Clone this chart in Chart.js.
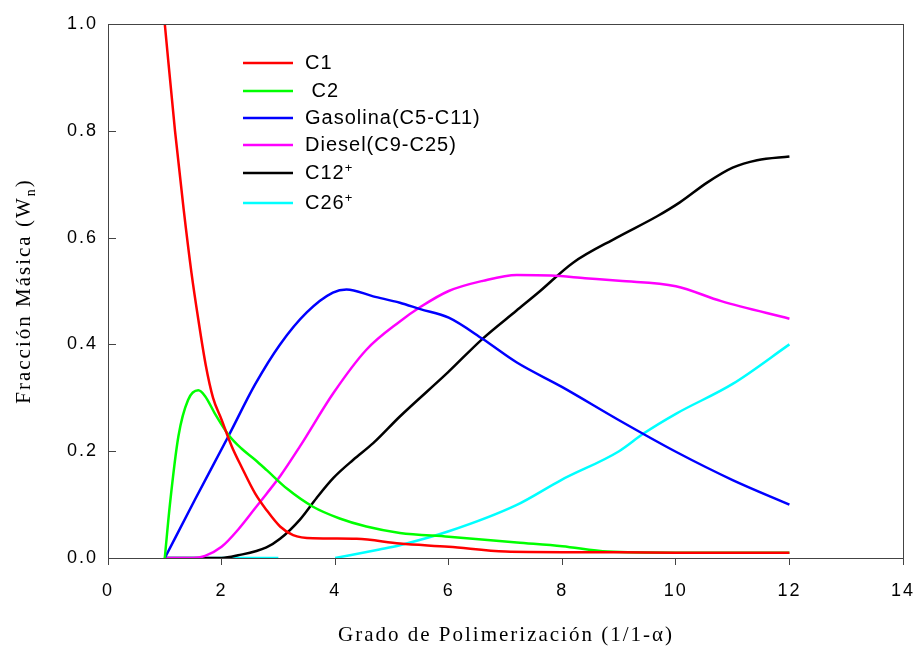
<!DOCTYPE html>
<html>
<head>
<meta charset="utf-8">
<script src="https://cdn.jsdelivr.net/npm/chart.js@4"></script>
<style>
  body { margin: 0; background: #fff; }
  canvas { display: block; }
</style>
</head>
<body>
<canvas id="myChart" width="917" height="648"></canvas>
<script>
// datos
const c1X = [1, 1.18, 1.33, 1.47, 1.59, 1.72, 1.85, 2.0, 2.18, 2.35, 2.59, 2.79, 3.03, 3.26, 3.61, 4.38, 5.14, 6, 7, 8, 9, 10, 11, 12];
const c1Y = [1.0, 0.8, 0.655, 0.534, 0.447, 0.362, 0.3, 0.259, 0.209, 0.171, 0.121, 0.09, 0.059, 0.043, 0.037, 0.036, 0.027, 0.021, 0.012, 0.011, 0.011, 0.01, 0.01, 0.01];

const c2X = [1, 1.09, 1.24, 1.41, 1.59, 1.71, 1.88, 2.12, 2.35, 2.59, 2.8, 3.15, 3.61, 4.08, 4.55, 5.14, 6, 7.2, 8, 8.8, 10, 12];
const c2Y = [0, 0.1, 0.228, 0.296, 0.314, 0.303, 0.271, 0.231, 0.205, 0.184, 0.164, 0.13, 0.096, 0.074, 0.059, 0.047, 0.04, 0.029, 0.022, 0.012, 0.01, 0.01];

const gasX = [1, 1.53, 2.12, 2.59, 3.03, 3.5, 3.96, 4.2, 4.67, 5.14, 5.5, 6, 6.6, 7.2, 8, 9, 10, 11, 12];
const gasY = [0, 0.109, 0.228, 0.325, 0.40, 0.46, 0.497, 0.503, 0.49, 0.478, 0.466, 0.45, 0.41, 0.366, 0.32, 0.258, 0.199, 0.146, 0.1];

const dieselX = [1, 1.5, 1.71, 2.0, 2.29, 2.59, 2.79, 3.03, 3.38, 3.97, 4.55, 5.14, 5.5, 6, 6.6, 7.2, 7.8, 8.4, 9, 10, 10.8, 12];
const dieselY = [0, 0, 0.004, 0.021, 0.053, 0.093, 0.12, 0.153, 0.209, 0.309, 0.39, 0.443, 0.47, 0.5, 0.519, 0.53, 0.529, 0.524, 0.519, 0.509, 0.481, 0.448];

const c12X = [1, 2, 2.29, 2.79, 3.03, 3.38, 3.67, 3.97, 4.32, 4.67, 5.14, 5.99, 6.59, 7.19, 7.6, 8.19, 8.96, 9.67, 10.07, 10.55, 11, 11.43, 12];
const c12Y = [0, 0, 0.005, 0.02, 0.036, 0.072, 0.112, 0.15, 0.184, 0.215, 0.265, 0.348, 0.41, 0.463, 0.499, 0.553, 0.6, 0.64, 0.666, 0.703, 0.731, 0.745, 0.752];

const c26X = [1, 2, 3, 3.5, 4, 4.78, 5.14, 6, 7.19, 7.98, 9, 9.43, 10, 11, 12];
const c26Y = [0, 0, 0, null, 0, 0.016, 0.024, 0.05, 0.099, 0.146, 0.2, 0.233, 0.27, 0.326, 0.40];

const xTicks = [0, 2, 4, 6, 8, 10, 12, 14];
const yTicks = [0.0, 0.2, 0.4, 0.6, 0.8, 1.0];

const series = [
    { label: 'C1', color: '#ff0000', xs: c1X, ys: c1Y },
    { label: ' C2', color: '#00ff00', xs: c2X, ys: c2Y },
    { label: 'Gasolina(C5-C11)', color: '#0000ff', xs: gasX, ys: gasY },
    { label: 'Diesel(C9-C25)', color: '#ff00ff', xs: dieselX, ys: dieselY },
    { label: 'C12+', color: '#000000', xs: c12X, ys: c12Y },
    { label: 'C26+', color: '#00ffff', xs: c26X, ys: c26Y }
];

const frameColor = '#444';
const sansFont = '"Liberation Sans", Arial, sans-serif';
const serifFont = '"Liberation Serif", "Times New Roman", serif';

// marco, ticks hacia dentro en y, leyenda y titulos
const extras = {
    id: 'extras',
    beforeDraw(chart) {
        chart.ctx.letterSpacing = '2px';
    },
    beforeDatasetsDraw(chart) {
        chart.ctx.letterSpacing = '0px';
    },
    afterDraw(chart) {
        const ctx = chart.ctx;
        const a = chart.chartArea;
        const yScale = chart.scales.y;
        ctx.save();
        ctx.strokeStyle = frameColor;
        ctx.lineWidth = 1;
        ctx.strokeRect(Math.round(a.left) + 0.5, Math.round(a.top) + 0.5, Math.round(a.right - a.left), Math.round(a.bottom - a.top));
        yTicks.forEach(v => {
            const py = Math.round(yScale.getPixelForValue(v)) + 0.5;
            ctx.beginPath();
            ctx.moveTo(a.left, py);
            ctx.lineTo(a.left + 8, py);
            ctx.stroke();
        });

        // leyenda
        const rows = [63, 91, 118, 145, 173, 203];
        ctx.textBaseline = 'middle';
        ctx.textAlign = 'left';
        series.forEach((s, i) => {
            const y = rows[i];
            ctx.strokeStyle = s.color;
            ctx.lineWidth = 2.5;
            ctx.beginPath();
            ctx.moveTo(243, y);
            ctx.lineTo(293, y);
            ctx.stroke();
            let text = s.label;
            let sup = '';
            if (text.endsWith('+')) {
                text = text.slice(0, -1);
                sup = '+';
            }
            ctx.fillStyle = '#000';
            ctx.letterSpacing = '1px';
            ctx.font = '20px ' + sansFont;
            ctx.fillText(text, 305, y);
            if (sup) {
                const w = ctx.measureText(text).width;
                ctx.font = '13px ' + sansFont;
                ctx.textBaseline = 'alphabetic';
                ctx.fillText(sup, 305 + w, y - 1);
                ctx.textBaseline = 'middle';
            }
        });

        // titulos de los ejes
        ctx.fillStyle = '#000';
        ctx.letterSpacing = '2px';
        ctx.font = '21px ' + serifFont;
        ctx.textAlign = 'center';
        ctx.textBaseline = 'alphabetic';
        ctx.fillText('Grado de Polimerización (1/1-α)', 506, 641);

        ctx.translate(30, (a.top + a.bottom) / 2);
        ctx.rotate(-Math.PI / 2);
        const p1 = 'Fracción Másica (W';
        const p2 = 'n';
        const p3 = ')';
        ctx.font = '21px ' + serifFont;
        const w1 = ctx.measureText(p1).width;
        const w3 = ctx.measureText(p3).width;
        ctx.font = '14px ' + serifFont;
        const w2 = ctx.measureText(p2).width;
        let x = -(w1 + w2 + w3) / 2;
        ctx.textAlign = 'left';
        ctx.font = '21px ' + serifFont;
        ctx.fillText(p1, x, 0);
        x += w1;
        ctx.font = '14px ' + serifFont;
        ctx.fillText(p2, x, 5);
        x += w2;
        ctx.font = '21px ' + serifFont;
        ctx.fillText(p3, x, 0);
        ctx.restore();
        ctx.letterSpacing = '0px';
    }
};

const ctx = document.getElementById('myChart').getContext('2d');
new Chart(ctx, {
    type: 'line',
    data: {
        datasets: series.map(s => ({
            label: s.label,
            data: s.xs.map((x, i) => ({ x: x, y: s.ys[i] })),
            borderColor: s.color,
            backgroundColor: s.color,
            borderWidth: 2.5,
            pointRadius: 0,
            fill: false,
            cubicInterpolationMode: 'monotone',
            spanGaps: false
        }))
    },
    options: {
        responsive: false,
        animation: false,
        devicePixelRatio: 1,
        layout: {
            padding: { left: 0, right: 14, top: 24, bottom: 0 }
        },
        plugins: {
            legend: { display: false },
            tooltip: { enabled: false }
        },
        scales: {
            x: {
                type: 'linear',
                min: 0,
                max: 14,
                afterBuildTicks: scale => { scale.ticks = xTicks.map(v => ({ value: v })); },
                afterFit: scale => {
                    scale.height = 90;
                    scale.paddingLeft = 0;
                    scale.paddingRight = 0;
                },
                ticks: {
                    color: '#000',
                    padding: 15,
                    font: { family: sansFont, size: 18 }
                },
                grid: {
                    drawOnChartArea: false,
                    drawTicks: true,
                    tickLength: 7,
                    color: frameColor
                },
                border: { color: frameColor }
            },
            y: {
                type: 'linear',
                min: 0,
                max: 1,
                afterBuildTicks: scale => { scale.ticks = yTicks.map(v => ({ value: v })); },
                afterFit: scale => {
                    scale.width = 108;
                    scale.paddingTop = 0;
                    scale.paddingBottom = 0;
                },
                ticks: {
                    color: '#000',
                    padding: 2,
                    font: { family: sansFont, size: 18 },
                    callback: v => v.toFixed(1)
                },
                grid: { display: false },
                border: { display: true, color: frameColor }
            }
        }
    },
    plugins: [extras]
});
</script>
</body>
</html>
